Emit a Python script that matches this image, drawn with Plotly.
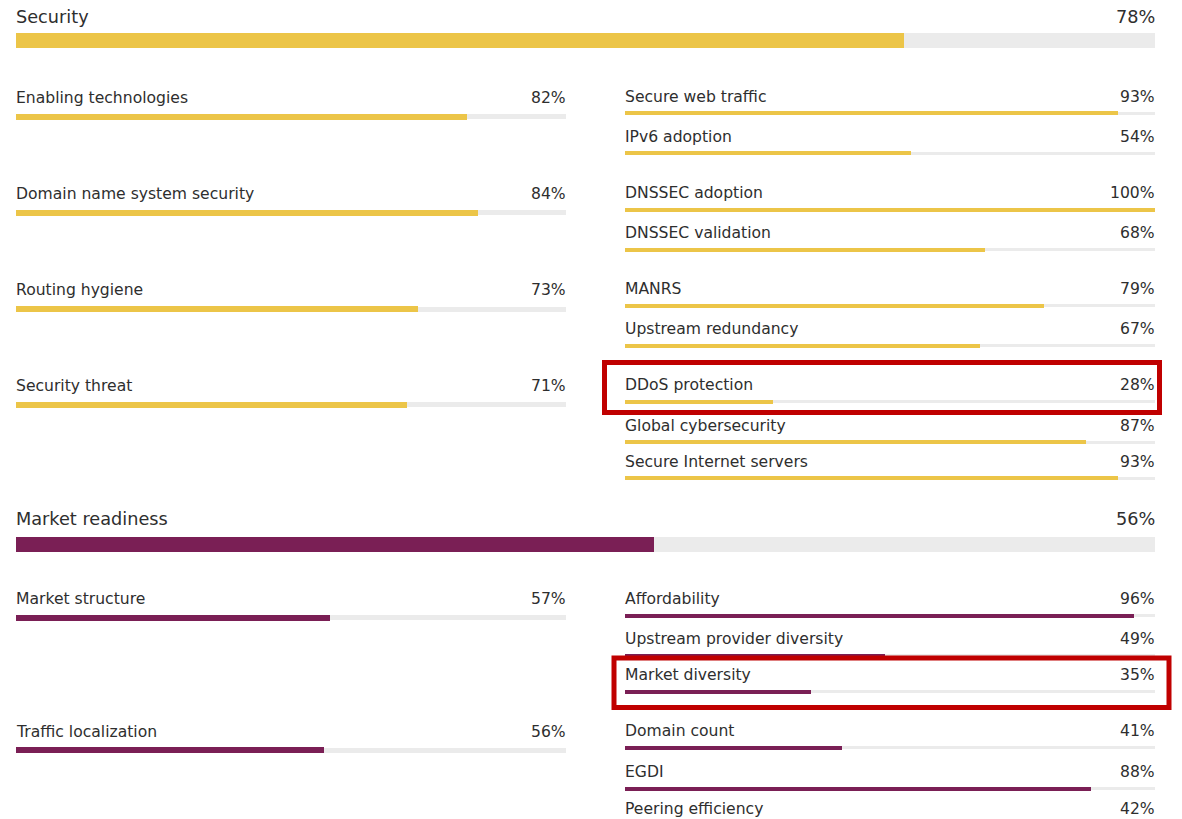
import plotly.graph_objects as go

W, H = 1182, 819

# ---------------- data ----------------
pillar_names = ["Security", "Market readiness"]
pillar_values = [78, 56]

security_left_names = ["Enabling technologies", "Domain name system security",
                       "Routing hygiene", "Security threat"]
security_left_values = [82, 84, 73, 71]

security_right_names = ["Secure web traffic", "IPv6 adoption", "DNSSEC adoption",
                        "DNSSEC validation", "MANRS", "Upstream redundancy",
                        "DDoS protection", "Global cybersecurity",
                        "Secure Internet servers"]
security_right_values = [93, 54, 100, 68, 79, 67, 28, 87, 93]

market_left_names = ["Market structure", "Traffic localization"]
market_left_values = [57, 56]

market_right_names = ["Affordability", "Upstream provider diversity",
                      "Market diversity", "Domain count", "EGDI",
                      "Peering efficiency"]
market_right_values = [96, 49, 35, 41, 88, 42]

# ---------------- layout (pixel rows) ----------------
pillar_rows = [40.5, 544]
security_left_rows = [116.5, 212.5, 309, 404.5]
security_right_rows = [113, 153, 209.5, 249.5, 305.5, 345.5, 401.5, 442, 478]
market_left_rows = [617.5, 750]
market_right_rows = [615.5, 655.5, 691.5, 747.5, 788.5, 825]

YELLOW = "#ecc548"
PURPLE = "#7a1f55"
TRACK = "#ebebeb"
TEXT = "#2e2e2e"
FONT = "DejaVu Sans"

fig = go.Figure()
annotations = []


def add_group(names, values, rows, xa, color, thick, track_thick, label_dy, fsize):
    fig.add_trace(go.Bar(
        x=[100] * len(values), y=rows, orientation="h", base=0,
        width=track_thick, marker=dict(color=TRACK, line=dict(width=0)),
        xaxis=xa, yaxis="y", hoverinfo="skip", showlegend=False))
    fig.add_trace(go.Bar(
        x=values, y=rows, orientation="h", base=0,
        width=thick, marker=dict(color=color, line=dict(width=0)),
        xaxis=xa, yaxis="y", hoverinfo="skip", showlegend=False))
    for n, v, r in zip(names, values, rows):
        annotations.append(dict(
            x=0, y=r - label_dy, xref=xa, yref="y", text=n, showarrow=False,
            xanchor="left", yanchor="middle", xshift=-2,
            font=dict(family=FONT, size=fsize, color=TEXT)))
        annotations.append(dict(
            x=100, y=r - label_dy, xref=xa, yref="y", text=f"{v}%",
            showarrow=False, xanchor="right", yanchor="middle", xshift=2,
            font=dict(family=FONT, size=fsize, color=TEXT)))


add_group([pillar_names[0]], [pillar_values[0]], [pillar_rows[0]], "x",
          YELLOW, 15, 15, 23.5, 17.7)
add_group([pillar_names[1]], [pillar_values[1]], [pillar_rows[1]], "x",
          PURPLE, 15, 15, 25, 17.7)
add_group(security_left_names, security_left_values, security_left_rows, "x2",
          YELLOW, 6, 5, 19, 15.6)
add_group(security_right_names, security_right_values, security_right_rows, "x3",
          YELLOW, 4, 3, 16.5, 15.6)
add_group(market_left_names, market_left_values, market_left_rows, "x2",
          PURPLE, 6, 5, 18.5, 15.6)
add_group(market_right_names, market_right_values, market_right_rows, "x3",
          PURPLE, 4, 3, 16.5, 15.6)

# highlight boxes (pixel-space frames)
boxes = [(604.5, 1159.5, 362.5, 412.5), (614, 1169, 658, 707.5)]
shapes = [dict(type="rect", xref="paper", yref="y",
               x0=x0 / W, x1=x1 / W, y0=y0, y1=y1,
               line=dict(color="#c00000", width=5), fillcolor="rgba(0,0,0,0)")
          for x0, x1, y0, y1 in boxes]

axis_common = dict(range=[0, 100], visible=False, fixedrange=True, anchor="y")
fig.update_layout(
    width=W, height=H,
    margin=dict(l=0, r=0, t=0, b=0),
    paper_bgcolor="white", plot_bgcolor="rgba(0,0,0,0)",
    barmode="overlay", bargap=0,
    xaxis=dict(domain=[16 / W, 1155 / W], **axis_common),
    xaxis2=dict(domain=[16 / W, 566 / W], **axis_common),
    xaxis3=dict(domain=[625 / W, 1155 / W], **axis_common),
    yaxis=dict(range=[H, 0], domain=[0, 1], visible=False, fixedrange=True),
    annotations=annotations,
    shapes=shapes,
)

fig.write_html("out.html", config={"displayModeBar": False},
               post_script="document.body.style.margin='0';document.body.style.overflow='hidden';")
